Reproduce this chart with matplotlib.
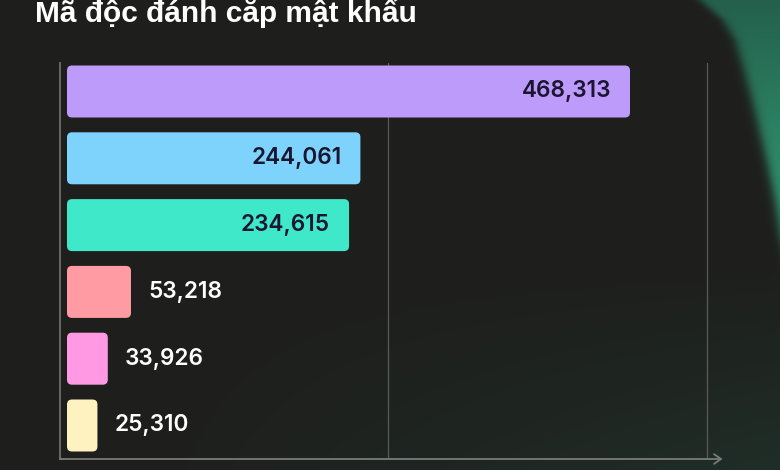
import numpy as np
import matplotlib
matplotlib.use("Agg")
import matplotlib.pyplot as plt
from matplotlib.patches import FancyBboxPatch

# ---- data ----
title = "Mã độc đánh cắp mật khẩu"
values = [468313, 244061, 234615, 53218, 33926, 25310]
labels = ["468,313", "244,061", "234,615", "53,218", "33,926", "25,310"]
colors = ["#BD9BFA", "#7DD3FC", "#3EE8C8", "#FF9CA3", "#FF99E3", "#FEF3C0"]
inside = [True, True, True, False, False, False]
grid_vals = [267000, 532000]

W, H = 780, 470
fig = plt.figure(figsize=(W / 100, H / 100), dpi=100)

# ---- background ----
yy, xx = np.mgrid[0:H, 0:W].astype(float)
base = np.array([30, 30, 28], float)
bg = np.ones((H, W, 3)) * base
tint = np.clip((yy - 250) / 220, 0, 1) * np.clip((xx - 100) / 680, 0, 1)
bg = bg + tint[..., None] * (np.array([32, 46, 40]) - base)
by = [0, 20, 40, 67, 100, 133, 167, 200, 235, 300, 470]
bx = [700, 723, 735, 743, 752, 760, 768, 775, 781, 800, 900]
xb = np.interp(yy, by, bx)
a = 1 / (1 + np.exp(-(xx - xb) / 3.0))
t = np.clip(yy / 200, 0, 1)
g_top = np.array([36, 96, 76], float)
g_bot = np.array([48, 148, 112], float)
green = g_top[None, None, :] * (1 - t[..., None]) + g_bot[None, None, :] * t[..., None]
bg = bg * (1 - a[..., None]) + green * a[..., None]
bax = fig.add_axes([0, 0, 1, 1], zorder=-10)
bax.imshow(bg.astype(np.uint8), aspect="auto", extent=[0, W, H, 0])
bax.set_axis_off()

# ---- main axes ----
left_px, right_px, top_px, bot_px = 60, 716, 63, 459
ax = fig.add_axes([left_px / W, (H - bot_px) / H, (right_px - left_px) / W, (bot_px - top_px) / H])
ax.set_facecolor("none")

s = 563 / values[0]  # px per unit
ax.set_xlim(-7 / s, (right_px - 67) / s)
pitch = 66.8
ax.set_ylim(5 + 33.5 / pitch, -28.5 / pitch)

bar_h = 52 / pitch
r_px = 5
rx = r_px / s
ry = r_px / pitch
lab_font = dict(fontsize=16.3, fontweight="semibold", family=["Inter", "DejaVu Sans"])
for i, (v, c) in enumerate(zip(values, colors)):
    p = FancyBboxPatch((0, i - bar_h / 2), v, bar_h,
                       boxstyle=f"round,pad=0,rounding_size={rx}",
                       mutation_aspect=ry / rx, fc=c, ec="none", zorder=3)
    ax.add_patch(p)
    if inside[i]:
        ax.text(v - 19 / s, i, labels[i], ha="right", va="center", color="#1b1530",
                zorder=4, **lab_font)
    else:
        ax.text(v + 17 / s, i, labels[i], ha="left", va="center", color="white",
                zorder=4, **lab_font)

for g in grid_vals:
    ax.axvline(g, color="#5a5a58", lw=0.9, zorder=1)

for sp in ["top", "right", "bottom"]:
    ax.spines[sp].set_visible(False)
ax.spines["left"].set_color("#707070")
ax.spines["left"].set_linewidth(1.3)
ax.annotate("", xy=(1.01, 0), xytext=(0, 0), xycoords="axes fraction",
            arrowprops=dict(arrowstyle="->,head_length=0.5,head_width=0.35",
                            color="#7a7a7a", lw=1.3, shrinkA=0, shrinkB=0))
ax.set_xticks([])
ax.set_yticks([])

fig.text(35 / W, 1 - 22 / H, title, ha="left", va="baseline", color="white",
         fontsize=21.5, fontweight="bold",
         family=["Liberation Sans", "DejaVu Sans"])

fig.savefig("out.png", dpi=100)
